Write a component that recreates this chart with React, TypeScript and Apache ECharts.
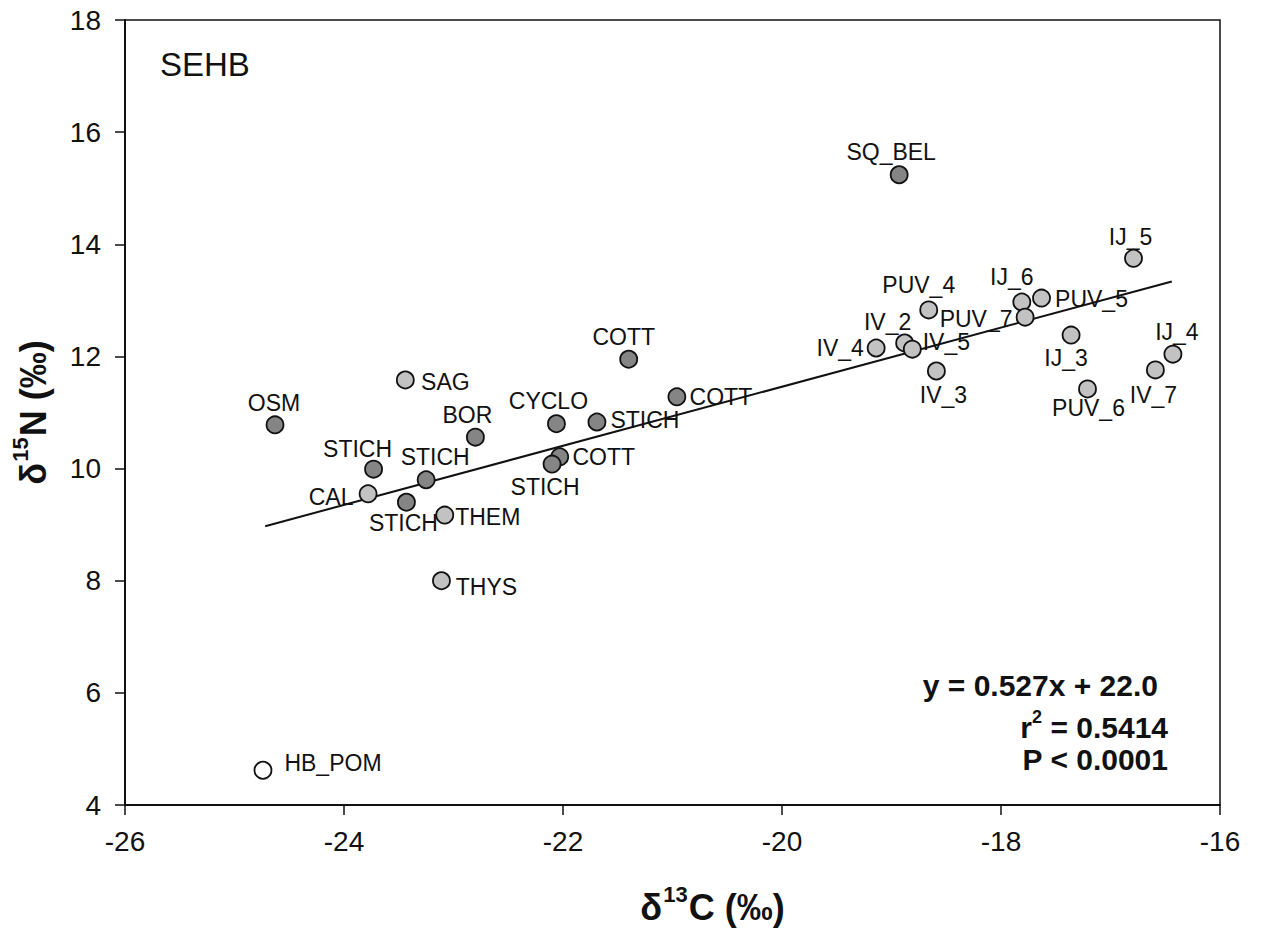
import React, { useEffect, useRef } from "react";
import * as echarts from "echarts";

// Stable isotope values per taxon (δ13C, δ15N)
const taxa = [
  "OSM", "SAG", "BOR", "STICH", "STICH", "CAL", "STICH", "THEM", "THYS", "HB_POM",
  "COTT", "CYCLO", "STICH", "COTT", "COTT", "STICH", "SQ_BEL", "IJ_5", "PUV_4", "IJ_6",
  "PUV_5", "PUV_7", "IV_2", "IV_5", "IV_4", "IV_3", "IJ_3", "IJ_4", "IV_7", "PUV_6",
];
const d13C = [
  -24.63, -23.44, -22.80, -23.73, -23.25, -23.78, -23.43, -23.08, -23.11, -24.74,
  -21.40, -22.06, -21.69, -20.96, -22.03, -22.10, -18.93, -16.79, -18.66, -17.81,
  -17.63, -17.78, -18.88, -18.81, -19.14, -18.59, -17.36, -16.43, -16.59, -17.21,
];
const d15N = [
  10.78, 11.58, 10.56, 9.99, 9.80, 9.55, 9.40, 9.17, 8.00, 4.62,
  11.95, 10.80, 10.83, 11.28, 10.21, 10.08, 15.24, 13.75, 12.83, 12.97,
  13.04, 12.70, 12.24, 12.13, 12.15, 11.74, 12.38, 12.04, 11.76, 11.42,
];
// marker shade group: 0 = dark, 1 = light, 2 = open
const shade = [
  0, 1, 0, 0, 0, 1, 0, 1, 1, 2,
  0, 0, 0, 0, 0, 0, 0, 1, 1, 1,
  1, 1, 1, 1, 1, 1, 1, 1, 1, 1,
];

// Regression y = a·x + b over the fitted δ13C range
const slope = 0.527;
const intercept = 22.0;
const fitRange = [-24.72, -16.44];
const statLines = ["y = 0.527x + 22.0", "0.5414", "P < 0.0001"];

const xTicks = { min: -26, max: -16, step: 2 };
const yTicks = { min: 4, max: 18, step: 2 };

// label centre offsets from each marker (px)
const labelOffsets: [number, number][] = [
  [-1, -22], [40, 2], [-8, -22], [-16, -20], [9, -23], [-37, 3], [-3, 21], [43, 2], [45, 6], [70, -7],
  [-5, -22], [-8, -23], [48, -2], [44, 0], [44, 0], [-7, 23], [-8, -23], [-3, -21], [-10, -25], [-10, -25],
  [50, 1], [-49, 2], [-17, -21], [34, -7], [-36, 0], [7, 24], [-5, 23], [4, -22], [-2, 25], [1, 19],
];

const FONT = "'Liberation Sans', Arial, Helvetica, sans-serif";
const fills = ["#858585", "#c2c2c2", "#ffffff"];

export default function App() {
  const ref = useRef<HTMLDivElement>(null);

  useEffect(() => {
    if (!ref.current) return;
    const chart = echarts.init(ref.current, null, { renderer: "svg" });

    const points = taxa.map((name, i) => ({
      name,
      value: [d13C[i], d15N[i]],
      itemStyle: { color: fills[shade[i]] },
      label: { offset: labelOffsets[i] },
    }));

    const fitLine = fitRange.map((x) => [x, slope * x + intercept]);

    const titleRich = {
      d: { fontSize: 36, fontWeight: "bold", color: "#111", fontFamily: FONT, lineHeight: 42, verticalAlign: "bottom" },
      s: { fontSize: 22, fontWeight: "bold", color: "#111", fontFamily: FONT, lineHeight: 42, verticalAlign: "top", padding: [0, 1, 15, 1] },
    };

    chart.setOption({
      animation: false,
      backgroundColor: "#ffffff",
      textStyle: { fontFamily: FONT },
      grid: {
        left: 125,
        right: 42,
        top: 20,
        bottom: 126,
        containLabel: false,
        outerBoundsMode: "none",
        show: true,
        borderColor: "#111",
        borderWidth: 1.5,
      },
      xAxis: {
        type: "value",
        min: xTicks.min,
        max: xTicks.max,
        interval: xTicks.step,
        splitLine: { show: false },
        axisLine: { show: true, onZero: false, lineStyle: { color: "#111", width: 2 } },
        axisTick: { show: true, inside: false, length: 10, lineStyle: { color: "#111", width: 1.5 } },
        axisLabel: { fontSize: 28, color: "#111", margin: 22, fontFamily: FONT },
        name: "{d|δ}{s|13}{d|C (‰)}",
        nameLocation: "middle",
        nameGap: 78,
        nameMoveOverlap: false,
        nameTextStyle: { rich: titleRich, padding: [0, 0, 0, 80] },
      },
      yAxis: {
        type: "value",
        min: yTicks.min,
        max: yTicks.max,
        interval: yTicks.step,
        splitLine: { show: false },
        axisLine: { show: true, onZero: false, lineStyle: { color: "#111", width: 2 } },
        axisTick: { show: true, inside: false, length: 10, lineStyle: { color: "#111", width: 1.5 } },
        axisLabel: { fontSize: 28, color: "#111", margin: 24, fontFamily: FONT },
        name: "{d|δ}{s|15}{d|N (‰)}",
        nameLocation: "middle",
        nameGap: 74,
        nameRotate: 90,
        nameMoveOverlap: false,
        nameTextStyle: { rich: titleRich },
      },
      graphic: [
        {
          type: "text",
          left: 160,
          top: 48,
          style: { text: "SEHB", font: `33px ${FONT}`, fill: "#111" },
        },
        {
          type: "text",
          x: 1158,
          y: 685,
          style: {
            text: statLines[0],
            font: `bold 30px ${FONT}`,
            fill: "#111",
            align: "right",
            verticalAlign: "middle",
          },
        },
        {
          type: "text",
          x: 1168,
          y: 725,
          style: {
            text: `{b|r}{s|2}{b| = ${statLines[1]}}`,
            align: "right",
            verticalAlign: "middle",
            rich: {
              b: { font: `bold 30px ${FONT}`, fill: "#111", lineHeight: 34, verticalAlign: "bottom" },
              s: { font: `bold 18px ${FONT}`, fill: "#111", lineHeight: 34, verticalAlign: "top", padding: [0, 0, 13, 0] },
            },
          },
        },
        {
          type: "text",
          x: 1168,
          y: 759,
          style: {
            text: statLines[2],
            font: `bold 30px ${FONT}`,
            fill: "#111",
            align: "right",
            verticalAlign: "middle",
          },
        },
      ],
      series: [
        {
          type: "line",
          data: fitLine,
          symbol: "none",
          lineStyle: { color: "#111", width: 2 },
          z: 1,
          silent: true,
        },
        {
          type: "scatter",
          data: points,
          symbol: "circle",
          symbolSize: 17,
          itemStyle: { borderColor: "#111", borderWidth: 1.8, opacity: 1 },
          label: {
            show: true,
            position: "inside",
            formatter: (p: any) => p.name,
            fontSize: 23,
            color: "#111",
            fontFamily: FONT,
          },
          z: 3,
        },
      ],
    });

    return () => chart.dispose();
  }, []);

  return (
    <div
      ref={ref}
      style={{ position: "fixed", left: 0, top: 0, width: 1262, height: 931, background: "#fff" }}
    />
  );
}
